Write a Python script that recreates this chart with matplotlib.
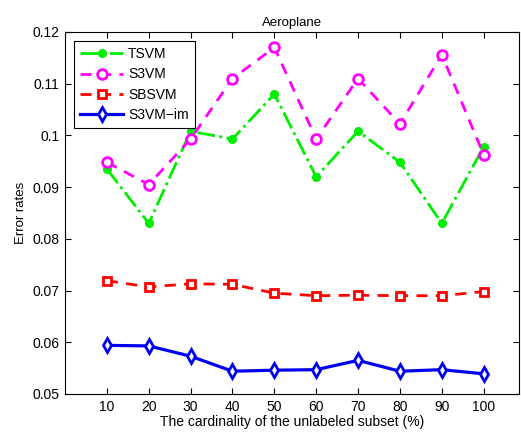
import matplotlib
matplotlib.use("Agg")
import matplotlib.pyplot as plt

x = [10, 20, 30, 40, 50, 60, 70, 80, 90, 100]
tsvm = [0.0935, 0.0830, 0.1008, 0.0993, 0.1080, 0.0920, 0.1008, 0.0948, 0.0830, 0.0978]
s3vm = [0.0948, 0.0905, 0.0993, 0.1110, 0.1170, 0.0993, 0.1110, 0.1022, 0.1156, 0.0963]
sbsvm = [0.0719, 0.0707, 0.0713, 0.0712, 0.0695, 0.0690, 0.0691, 0.0690, 0.0690, 0.0698]
s3vm_im = [0.0594, 0.0593, 0.0573, 0.0544, 0.0546, 0.0547, 0.0565, 0.0544, 0.0547, 0.0539]

plt.rcParams["font.family"] = ["Liberation Sans", "DejaVu Sans"]

fig = plt.figure(figsize=(5.21, 4.32), dpi=100)
ax = fig.add_axes([0.1248, 0.088, 0.871, 0.838])

ax.plot(x, tsvm, color="#00ee00", linestyle="-.", linewidth=2.0,
        marker="o", markersize=5.5, label="TSVM")
ax.plot(x, s3vm, color="#ff00ff", linestyle="--", linewidth=2.0, dashes=(4, 3),
        marker="o", markersize=7, markerfacecolor="white", markeredgewidth=2.0,
        label="S3VM")
ax.plot(x, sbsvm, color="#ff0000", linestyle="--", linewidth=2.0, dashes=(4, 3),
        marker="s", markersize=5.5, markerfacecolor="white", markeredgewidth=2.0,
        label="SBSVM")
ax.plot(x, s3vm_im, color="#0000ee", linestyle="-", linewidth=2.3,
        marker="d", markersize=7.5, markerfacecolor="white", markeredgewidth=2.0,
        label="S3VM\u2212im")

ax.set_xlim(0, 108.4)
ax.set_ylim(0.05, 0.12)
ax.set_xticks(x)
ax.set_yticks([0.05, 0.06, 0.07, 0.08, 0.09, 0.1, 0.11, 0.12])
ax.set_yticklabels(["0.05", "0.06", "0.07", "0.08", "0.09", "0.1", "0.11", "0.12"])
ax.tick_params(direction="in", top=True, right=True, labelsize=10, length=4, pad=4)
ax.set_xlabel("The cardinality of the unlabeled subset (%)", fontsize=10, labelpad=1)
ax.set_ylabel("Error rates", fontsize=9.5, labelpad=4)
ax.set_title("Aeroplane", fontsize=9.5, pad=4)

leg = ax.legend(loc="upper left", fontsize=10, frameon=True, fancybox=False,
                edgecolor="black", framealpha=1, handlelength=3.1,
                borderaxespad=0.65, labelspacing=0.45, handletextpad=0.35,
                borderpad=0.45)
leg.get_frame().set_linewidth(0.8)

fig.savefig("out.png", dpi=100)
